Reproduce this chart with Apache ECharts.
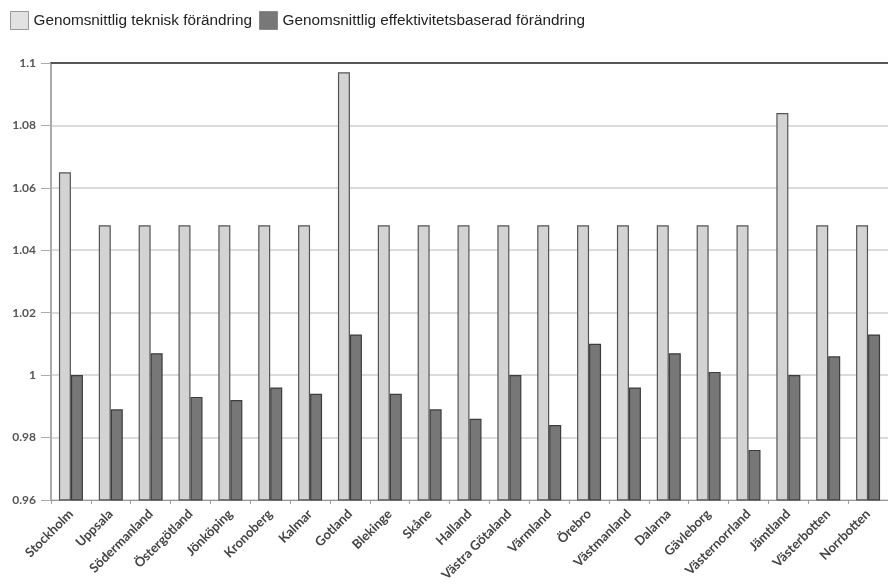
<!DOCTYPE html>
<html>
<head>
<meta charset="utf-8">
<script src="https://cdn.jsdelivr.net/npm/echarts@6/dist/echarts.min.js"></script>
<style>
  html, body { margin: 0; padding: 0; background: #fff; }
  #chart { width: 888px; height: 584px; }
</style>
</head>
<body>
<div id="chart"></div>
<script>
// Swedish counties
const categories = [
  'Stockholm', 'Uppsala', 'Södermanland', 'Östergötland', 'Jönköping', 'Kronoberg',
  'Kalmar', 'Gotland', 'Blekinge', 'Skåne', 'Halland', 'Västra Götaland', 'Värmland',
  'Örebro', 'Västmanland', 'Dalarna', 'Gävleborg', 'Västernorrland', 'Jämtland',
  'Västerbotten', 'Norrbotten'
];

// Average technical change per county
const technicalChange = [
  1.065, 1.048, 1.048, 1.048, 1.048, 1.048, 1.048, 1.097, 1.048, 1.048, 1.048,
  1.048, 1.048, 1.048, 1.048, 1.048, 1.048, 1.048, 1.084, 1.048, 1.048
];

// Average efficiency-based change per county
const efficiencyChange = [
  1.000, 0.989, 1.007, 0.993, 0.992, 0.996, 0.994, 1.013, 0.994, 0.989, 0.986,
  1.000, 0.984, 1.010, 0.996, 1.007, 1.001, 0.976, 1.000, 1.006, 1.013
];

const seriesNames = ['Genomsnittlig teknisk förändring', 'Genomsnittlig effektivitetsbaserad förändring'];

const axisFont = 'Lato, "Open Sans", sans-serif';

const chart = echarts.init(document.getElementById('chart'), null, { renderer: 'canvas' });

chart.setOption({
  animation: false,
  backgroundColor: '#ffffff',
  legend: {
    left: 10,
    top: 11,
    padding: 0,
    itemWidth: 18,
    itemHeight: 18,
    itemGap: 7,
    icon: 'rect',
    textStyle: { fontFamily: '"Liberation Sans", Arial, sans-serif', fontSize: 15.3, color: '#222' },
    data: [
      { name: seriesNames[0], itemStyle: { color: '#e2e2e2', borderColor: '#999', borderWidth: 1 } },
      { name: seriesNames[1], itemStyle: { color: '#787878', borderColor: '#888', borderWidth: 1 } }
    ]
  },
  grid: { left: 51, top: 63, width: 840, height: 439, containLabel: false },
  xAxis: [
    {
      type: 'category',
      data: categories,
      position: 'bottom',
      axisLine: { show: true, lineStyle: { color: '#999', width: 1 } },
      axisTick: { show: true, alignWithLabel: false, length: 4, lineStyle: { color: '#999' } },
      axisLabel: {
        rotate: 45,
        interval: 0,
        margin: 12,
        fontFamily: axisFont,
        fontSize: 13,
        fontWeight: 'bold',
        color: '#444'
      }
    },
    {
      type: 'category',
      data: categories,
      position: 'top',
      axisLine: { show: true, lineStyle: { color: '#555', width: 2 } },
      axisTick: { show: false },
      axisLabel: { show: false }
    }
  ],
  yAxis: {
    type: 'value',
    min: 0.96,
    max: 1.1,
    interval: 0.02,
    axisLine: { show: true, lineStyle: { color: '#aaa', width: 2 } },
    axisTick: { show: true, length: 10, lineStyle: { color: '#aaa' } },
    axisLabel: {
      margin: 15,
      fontFamily: axisFont,
      fontSize: 12,
      fontWeight: 'bold',
      color: '#555',
      formatter: v => String(parseFloat(v.toFixed(2)))
    },
    splitLine: { show: true, lineStyle: { color: '#cfcfcf', width: 1.5 } }
  },
  series: [
    {
      name: seriesNames[0],
      type: 'bar',
      data: technicalChange,
      barWidth: 12,
      barGap: '0%',
      itemStyle: { color: '#d3d3d3', borderColor: '#555', borderWidth: 1.2 }
    },
    {
      name: seriesNames[1],
      type: 'bar',
      data: efficiencyChange,
      barWidth: 12,
      barGap: '0%',
      itemStyle: { color: '#777777', borderColor: '#3c3c3c', borderWidth: 1.2 }
    }
  ]
});
</script>
</body>
</html>
